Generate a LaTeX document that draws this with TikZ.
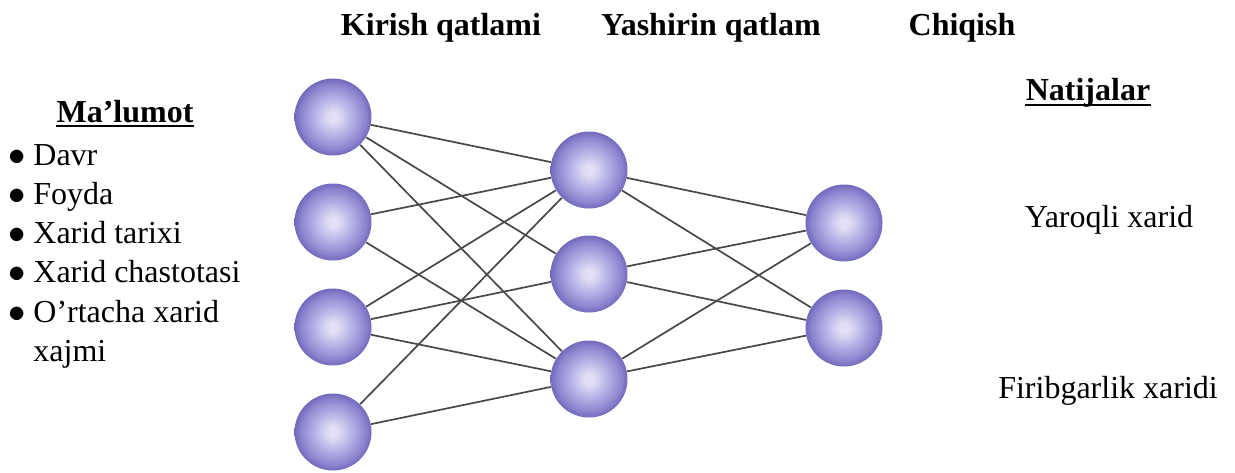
\documentclass[tikz,border=0pt]{standalone}
\usepackage{fontspec}
\usepackage{graphicx}
\setmainfont{Liberation Serif}
\usetikzlibrary{calc}

\definecolor{nlight}{RGB}{226,224,246}
\definecolor{nmid}{RGB}{178,173,228}
\definecolor{nbase}{RGB}{140,133,207}
\definecolor{nedge}{RGB}{114,105,188}
\definecolor{linkgray}{RGB}{72,72,72}

\pgfdeclareradialshading{neuronshade}{\pgfpoint{0bp}{0bp}}{%
  color(0bp)=(nlight); color(3bp)=(nlight); color(13bp)=(nmid);
  color(21bp)=(nbase); color(25bp)=(nedge); color(50bp)=(nedge)}

\newcommand{\itm}[1]{\makebox[12.5pt][l]{$\bullet$}#1}

\begin{document}
\begin{tikzpicture}[
      x=0.5pt, y=-0.5pt,
      neuron/.style={circle, shading=neuronshade, minimum size=38.5pt, inner sep=0pt},
      link/.style={draw=linkgray, line width=0.85pt},
      head/.style={font=\fontsize{16}{19}\selectfont\bfseries, inner sep=0pt, anchor=base},
      txt/.style={font=\fontsize{16}{19}\selectfont, inner sep=0pt, anchor=base west},
      uline/.style={line width=1.4pt}
    ]
    \useasboundingbox (0,0) rectangle (1235,472);

    % layer titles
    \node[head] (kirish) at (441,35) {Kirish qatlami};
    \node[head] (yashirin) at (711,35) {Yashirin qatlam};
    \node[head] (chiqish) at (962,35) {Chiqish};

    % input data
    \node[head] (malumot) at (125,122) {Ma’lumot};
    \draw[uline] ($(malumot.base west)+(0,4)$) -- ($(malumot.base east)+(0,4)$);
    \node[txt] (davr) at (8,165) {\itm{Davr}};
    \node[txt] (foyda) at (8,204) {\itm{Foyda}};
    \node[txt] (tarix) at (8,243) {\itm{Xarid tarixi}};
    \node[txt] (chastota) at (8,282) {\itm{Xarid chastotasi}};
    \node[txt] (ortacha) at (8,322) {\itm{O’rtacha xarid}};
    \node[txt] (xajmi) at (33,361) {xajmi};

    % results
    \node[head] (natija) at (1088,100) {Natijalar};
    \draw[uline] ($(natija.base west)+(0,5)$) -- ($(natija.base east)+(0,5)$);
    \node[txt, anchor=base] (yaroqli) at (1109,227) {Yaroqli xarid};
    \node[txt, anchor=base] (firib) at (1108,398) {Firibgarlik xaridi};

    % network
    \node[neuron] (in1) at (333,117) {};
    \node[neuron] (in2) at (333,222) {};
    \node[neuron] (in3) at (333,327) {};
    \node[neuron] (in4) at (333,432) {};
    \node[neuron] (h1) at (589,170) {};
    \node[neuron] (h2) at (589,274) {};
    \node[neuron] (h3) at (589,379) {};
    \node[neuron] (out1) at (844,223) {};
    \node[neuron] (out2) at (844,328) {};

    \draw[link] (in1) -- (h1) (in1) -- (h2) (in1) -- (h3);
    \draw[link] (in2) -- (h1) (in2) -- (h3);
    \draw[link] (in3) -- (h1) (in3) -- (h2) (in3) -- (h3);
    \draw[link] (in4) -- (h1) (in4) -- (h3);
    \draw[link] (h1) -- (out1) (h1) -- (out2);
    \draw[link] (h2) -- (out1) (h2) -- (out2);
    \draw[link] (h3) -- (out1) (h3) -- (out2);
  \end{tikzpicture}
\end{document}
